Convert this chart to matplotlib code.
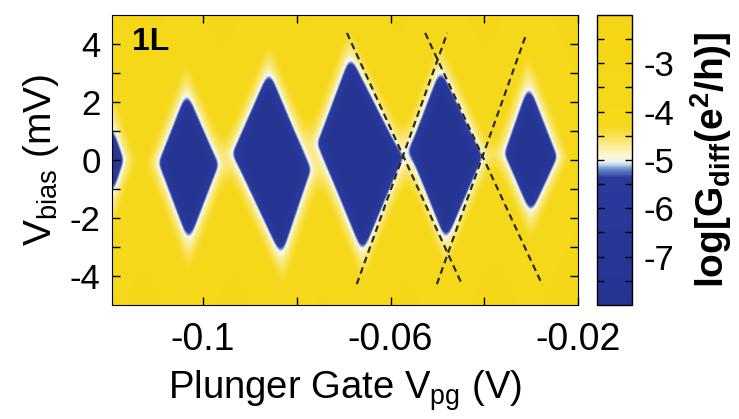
import numpy as np
import matplotlib
matplotlib.use("Agg")
import matplotlib.pyplot as plt
from matplotlib.colors import LinearSegmentedColormap

plt.rcParams['font.family'] = ['Liberation Sans', 'DejaVu Sans']
plt.rcParams['mathtext.fontset'] = 'custom'
plt.rcParams['mathtext.rm'] = 'Liberation Sans'
plt.rcParams['mathtext.bf'] = 'Liberation Sans:bold'

# corners of the Coulomb diamonds (gate in V, bias in mV)
top_x = [-0.1224, -0.1036, -0.0861, -0.0686, -0.0494, -0.0306]
top_y = [2.07, 1.96, 2.70, 3.22, 2.76, 2.18]
right_x = [-0.1181, -0.0979, -0.0782, -0.0587, -0.0416, -0.0256]
right_y = [0.0, -0.17, -0.34, 0.06, 0.11, 0.11]
bot_x = [-0.1224, -0.1032, -0.0836, -0.0661, -0.0483, -0.0302]
bot_y = [-2.14, -2.41, -2.93, -2.82, -2.41, -1.49]
left_x = [-0.1271, -0.1086, -0.0928, -0.0747, -0.0551, -0.0348]
left_y = [0.0, -0.10, 0.23, 0.58, 0.34, 0.23]

# dashed guide lines (start / end points)
dash_x0 = [-0.0693, -0.0672, -0.0526, -0.0501]
dash_y0 = [4.38, -4.28, 4.38, -4.28]
dash_x1 = [-0.0447, -0.0479, -0.0276, -0.0311]
dash_y1 = [-4.31, 4.38, -4.31, 4.31]

x_ticks = [-0.1, -0.08, -0.06, -0.04, -0.02]
x_labels = ['-0.1', '', '-0.06', '', '-0.02']
y_ticks = [-4, -3, -2, -1, 0, 1, 2, 3, 4]
y_labels = ['-4', '', '-2', '', '0', '', '2', '', '4']
c_ticks = [-7.5, -7, -6.5, -6, -5.5, -5, -4.5, -4, -3.5, -3, -2.5]
c_labels = ['', '-7', '', '-6', '', '-5', '', '-4', '', '-3', '']

g_min, g_max = -0.1195, -0.02
b_min, b_max = -5, 5

# log conductance map built from the diamond corners
sx, sy = 4683.0, 29.0   # pixels per V and per mV, to get a distance in pixels
gx = np.linspace(g_min, g_max, 700)
gy = np.linspace(b_min, b_max, 400)
GX, GY = np.meshgrid(gx, gy)
X, Y = GX * sx, GY * sy

T = 6.0
acc = np.zeros(X.shape)
for i in range(len(top_x)):
    px = np.array([top_x[i], right_x[i], bot_x[i], left_x[i]]) * sx
    py = np.array([top_y[i], right_y[i], bot_y[i], left_y[i]]) * sy
    di = np.full(X.shape, -1e9)
    for k in range(4):
        ex = px[(k + 1) % 4] - px[k]
        ey = py[(k + 1) % 4] - py[k]
        nx, ny = -ey, ex
        nn = np.hypot(nx, ny)
        di = np.maximum(di, ((X - px[k]) * nx + (Y - py[k]) * ny) / nn)
    acc += np.exp(-np.clip(di, -60, None) / T)
dist = -T * np.log(acc)   # soft minimum, so the gaps between diamonds stay pale

G = -7.6 + 2.5 / (1 + np.exp(-dist / 1.6))
G += 1.9 * (1 - np.exp(-np.clip(dist, 0, None) / 30.0))

# soften the corners, like the measured map
k = np.exp(-0.5 * (np.arange(-14, 15) / 4.5) ** 2)
k /= k.sum()
Gp = np.pad(G, 14, mode='edge')
Gp = np.apply_along_axis(lambda r: np.convolve(r, k, mode='same'), 1, Gp)
Gp = np.apply_along_axis(lambda c: np.convolve(c, k, mode='same'), 0, Gp)
G = Gp[14:-14, 14:-14]

cmap = LinearSegmentedColormap.from_list('cb', [
    (0.0, '#263391'),
    (0.44, '#2a3a9c'),
    (0.475, '#7ea4da'),
    (0.492, '#eef2f8'),
    (0.515, '#fcf6d2'),
    (0.615, '#f6d91c'),
    (1.0, '#f5d616'),
])

fig = plt.figure(figsize=(7.39, 4.19), dpi=100)
ax = fig.add_axes([0.1511, 0.2721, 0.6310, 0.6921])
cax = fig.add_axes([0.8078, 0.2721, 0.0474, 0.6921])

im = ax.imshow(G, extent=[g_min, g_max, b_min, b_max], origin='lower',
               aspect='auto', cmap=cmap, vmin=-8, vmax=-2, interpolation='bilinear')

for i in range(len(dash_x0)):
    ax.plot([dash_x0[i], dash_x1[i]], [dash_y0[i], dash_y1[i]],
            color='#2a2a22', lw=1.6, ls=(0, (3, 2)))

ax.set_xlim(g_min, g_max)
ax.set_ylim(b_min, b_max)
ax.set_xticks(x_ticks)
ax.set_xticklabels(x_labels)
ax.set_yticks(y_ticks)
ax.set_yticklabels(y_labels)
ax.tick_params(direction='in', top=True, right=True, length=6, width=1,
               labelsize=25, pad=8)
ax.tick_params(axis='x', labelsize=27, pad=12)
ax.set_xlabel('Plunger Gate $\\mathregular{V_{pg}}$ (V)', fontsize=27.5, labelpad=8)
ax.set_ylabel('$\\mathregular{V_{bias}}$ (mV)', fontsize=28, labelpad=6)
ax.text(0.044, 0.96, '1L', transform=ax.transAxes, fontsize=23,
        fontweight='bold', va='top', ha='left')

cb = fig.colorbar(im, cax=cax)
cb.set_ticks(c_ticks)
cb.set_ticklabels(c_labels)
cax.yaxis.set_ticks_position('both')
cax.tick_params(direction='in', length=5, width=1, labelsize=25, pad=8,
                left=True, right=True, labelleft=False, labelright=True)
cb.outline.set_linewidth(1)
cb.set_label('$\\mathbf{log[G_{diff}(e^2/h)]}$', fontsize=28, labelpad=10)

fig.savefig('out.png', dpi=100)
